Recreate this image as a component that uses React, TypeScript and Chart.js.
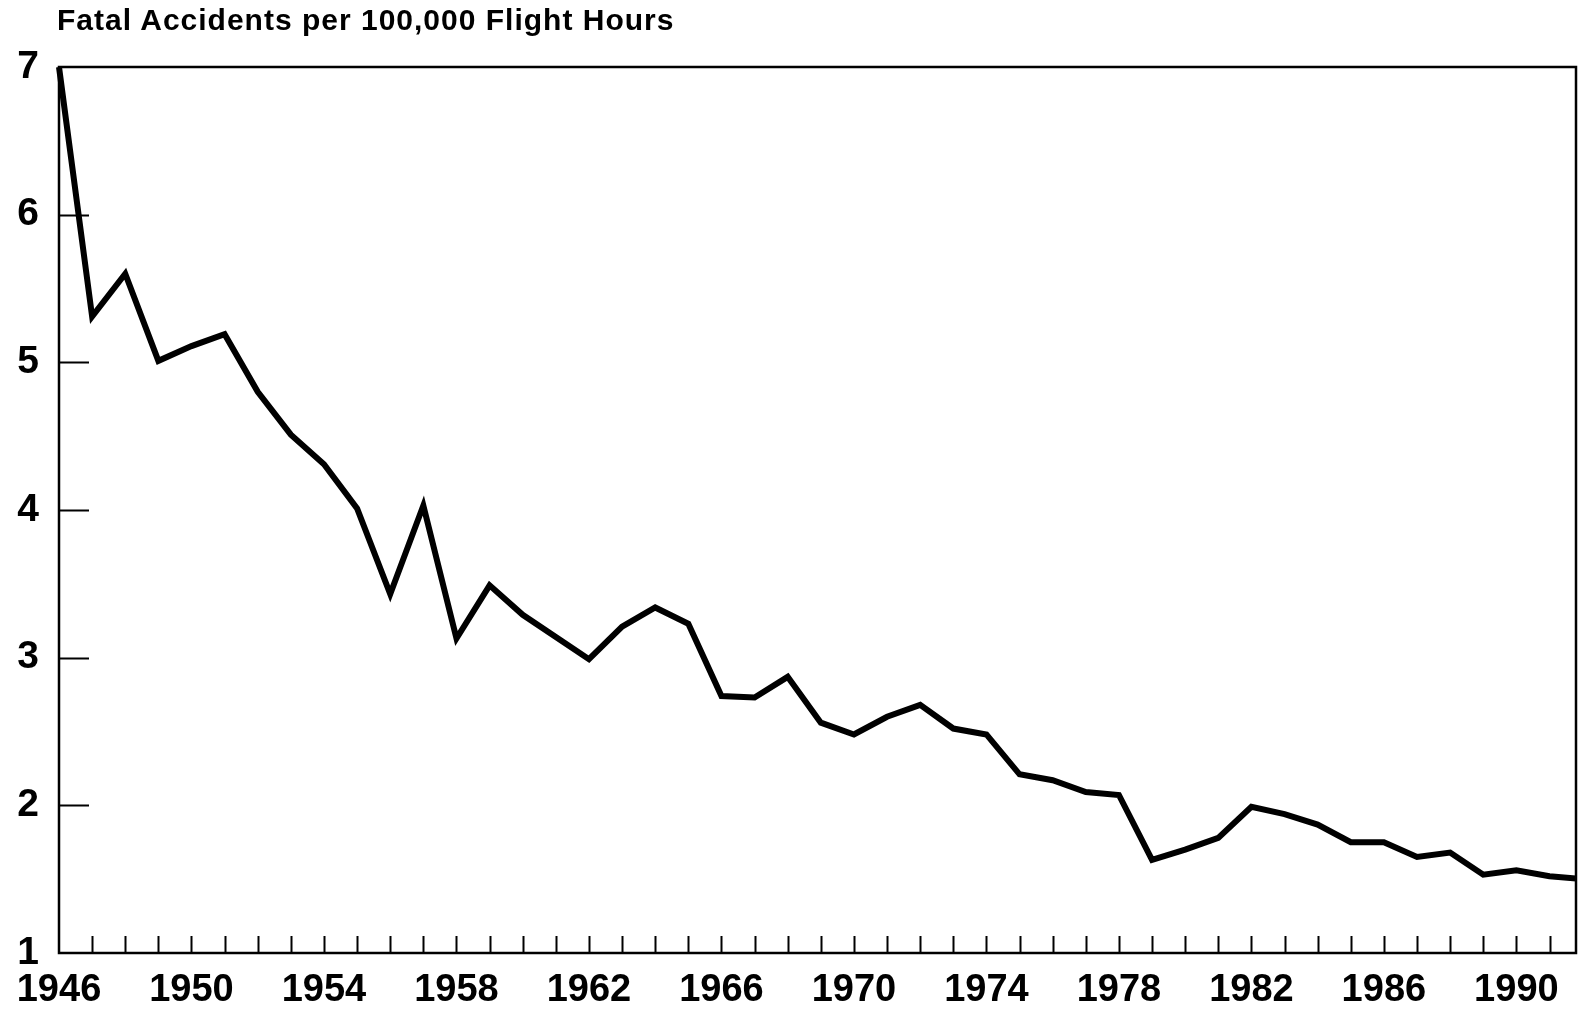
import React, { useEffect, useRef } from "react";
import { Chart, registerables } from "chart.js";

Chart.register(...registerables);

const titleText = "Fatal Accidents per 100,000 Flight Hours";

const years = [
  1946, 1947, 1948, 1949, 1950, 1951, 1952, 1953, 1954, 1955,
  1956, 1957, 1958, 1959, 1960, 1961, 1962, 1963, 1964, 1965,
  1966, 1967, 1968, 1969, 1970, 1971, 1972, 1973, 1974, 1975,
  1976, 1977, 1978, 1979, 1980, 1981, 1982, 1983, 1984, 1985,
  1986, 1987, 1988, 1989, 1990, 1991, 1992,
];

const rates = [
  7.0, 5.31, 5.6, 5.01, 5.11, 5.19, 4.8, 4.51, 4.31, 4.01,
  3.43, 4.03, 3.13, 3.49, 3.29, 3.14, 2.99, 3.21, 3.34, 3.23,
  2.74, 2.73, 2.87, 2.56, 2.48, 2.6, 2.68, 2.52, 2.48, 2.21,
  2.17, 2.09, 2.07, 1.63, 1.7, 1.78, 1.99, 1.94, 1.87, 1.75,
  1.75, 1.65, 1.68, 1.53, 1.56, 1.52, 1.5,
];

const xLabelYears = [1946, 1950, 1954, 1958, 1962, 1966, 1970, 1974, 1978, 1982, 1986, 1990];
const yTickValues = [1, 2, 3, 4, 5, 6, 7];

const X_MIN = 1946;
const X_MAX = 1991.8;
const FONT = "'Liberation Sans', Arial, Helvetica, sans-serif";

const framePlugin = {
  id: "frameAndInnerTicks",
  afterDatasetsDraw(chart: any) {
    const { ctx, chartArea: a, scales } = chart;
    ctx.save();
    ctx.strokeStyle = "#000";
    ctx.lineWidth = 2.5;
    ctx.strokeRect(a.left, a.top, a.right - a.left, a.bottom - a.top);
    ctx.lineWidth = 2;
    ctx.beginPath();
    scales.x.ticks.forEach((t: any) => {
      if (Number.isInteger(t.value) && t.value > X_MIN) {
        const px = Math.round(scales.x.getPixelForValue(t.value)) + 0.5;
        ctx.moveTo(px, a.bottom);
        ctx.lineTo(px, a.bottom - 17);
      }
    });
    scales.y.ticks.forEach((t: any) => {
      if (t.value > 1 && t.value < 7) {
        const py = Math.round(scales.y.getPixelForValue(t.value)) + 0.5;
        ctx.moveTo(a.left, py);
        ctx.lineTo(a.left + 30, py);
      }
    });
    ctx.stroke();
    ctx.restore();
  },
};

export default function App() {
  const canvasRef = useRef<HTMLCanvasElement | null>(null);

  useEffect(() => {
    if (!canvasRef.current) return;
    const chart = new Chart(canvasRef.current, {
      type: "line",
      data: {
        datasets: [
          {
            data: years.map((y, i) => ({ x: y, y: rates[i] })),
            borderColor: "#000",
            borderWidth: 6,
            borderJoinStyle: "miter",
            pointRadius: 0,
            tension: 0,
            fill: false,
            clip: { left: 6, top: 6, right: 0, bottom: 6 } as any,
          },
        ],
      },
      options: {
        responsive: false,
        animation: false,
        events: [],
        layout: { padding: { left: 0, right: 2, top: 67, bottom: 0 } },
        plugins: {
          legend: { display: false },
          tooltip: { enabled: false },
          title: { display: false },
        },
        scales: {
          x: {
            type: "linear",
            min: X_MIN,
            max: X_MAX,
            grid: { display: false, drawTicks: false },
            border: { display: false },
            afterBuildTicks: (scale: any) => {
              scale.ticks = years.filter((y) => y <= X_MAX).map((v) => ({ value: v }));
            },
            afterFit: (scale: any) => {
              scale.height = 57;
            },
            ticks: {
              autoSkip: false,
              maxRotation: 0,
              minRotation: 0,
              padding: 15,
              color: "#000",
              font: { family: FONT, size: 38, weight: "bold" },
              callback: (v: any) => (xLabelYears.includes(Number(v)) ? String(v) : ""),
            },
          },
          y: {
            type: "linear",
            min: 1,
            max: 7,
            grid: { display: false, drawTicks: false },
            border: { display: false },
            afterBuildTicks: (scale: any) => {
              scale.ticks = yTickValues.map((v) => ({ value: v }));
            },
            afterFit: (scale: any) => {
              scale.width = 59;
            },
            ticks: {
              padding: 20,
              color: "#000",
              font: { family: FONT, size: 39, weight: "bold" },
              callback: (v: any) => String(v),
            },
          },
        },
      },
      plugins: [framePlugin],
    });
    return () => chart.destroy();
  }, []);

  return (
    <div style={{ position: "absolute", left: 0, top: 0, width: 1578, height: 1010, background: "#fff" }}>
      <canvas
        ref={canvasRef}
        width={1578}
        height={1010}
        style={{ position: "absolute", left: 0, top: 0, width: 1578, height: 1010, display: "block" }}
      />
      <div
        style={{
          position: "absolute",
          left: 57,
          top: 5,
          fontFamily: FONT,
          fontWeight: "bold",
          fontSize: 30,
          lineHeight: "30px",
          letterSpacing: "1px",
          color: "#000",
          whiteSpace: "nowrap",
        }}
      >
        {titleText}
      </div>
    </div>
  );
}
